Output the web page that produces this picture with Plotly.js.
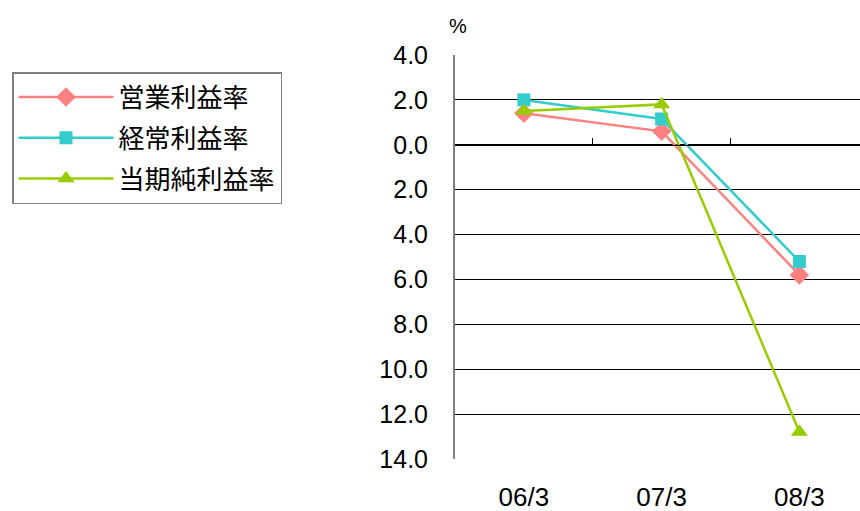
<!DOCTYPE html>
<html><head><meta charset="utf-8">
<script src="https://cdn.plot.ly/plotly-3.0.1.min.js"></script>
<style>html,body{margin:0;padding:0;background:#fff}#chart{width:860px;height:511px}</style>
</head><body><div id="chart"></div>
<script>
const categories = ["06/3", "07/3", "08/3"];
const operatingMargin = [1.4, 0.6, -5.8];
const ordinaryMargin = [2.0, 1.15, -5.2];
const netMargin = [1.5, 1.8, -12.8];
const seriesNames = ["営業利益率", "経常利益率", "当期純利益率"];
const yTickVals = [4, 2, 0, -2, -4, -6, -8, -10, -12, -14];
const yTickText = ["4.0", "2.0", "0.0", "2.0", "4.0", "6.0", "8.0", "10.0", "12.0", "14.0"];
const boundaryTicks = [-0.5, 0.5, 1.5];

const xIdx = categories.map((c, i) => i);
const numFont = "Liberation Sans, Arial, sans-serif";
const jpFont = "Noto Sans CJK JP, sans-serif";

const traces = [
  {x: xIdx, y: operatingMargin, name: seriesNames[0], mode: "lines+markers",
   line: {color: "#FF8080", width: 2.5}, marker: {symbol: "diamond", size: 15, color: "#FF8080"}, legendgroup: "a"},
  {x: xIdx, y: ordinaryMargin, name: seriesNames[1], mode: "lines+markers",
   line: {color: "#33CCCC", width: 2.5}, marker: {symbol: "square", size: 13, color: "#33CCCC"}, legendgroup: "b"},
  {x: xIdx, y: netMargin, name: seriesNames[2], mode: "lines+markers",
   line: {color: "#99CC00", width: 2.5}, marker: {symbol: "triangle-up", size: 15, color: "#99CC00"}, legendgroup: "c"},
  {x: [], y: [], xaxis: "x2", yaxis: "y", showlegend: false, hoverinfo: "skip"}
];

const layout = {
  width: 860, height: 511,
  margin: {l: 455, r: 0, t: 55, b: 52},
  paper_bgcolor: "#fff", plot_bgcolor: "#fff",
  showlegend: true,
  xaxis: {
    range: [-0.5, 2.44], tickvals: xIdx, ticktext: categories,
    showgrid: false, zeroline: false, showline: false, ticks: "",
    ticklabelstandoff: 20,
    tickfont: {family: numFont, size: 26, color: "#000"}
  },
  xaxis2: {
    overlaying: "x", anchor: "free", position: 14 / 18, side: "bottom",
    range: [-0.5, 2.44], tickvals: boundaryTicks, ticks: "inside", ticklen: 7, tickwidth: 1.2,
    tickcolor: "#000", showticklabels: false, showline: true, linecolor: "#000", linewidth: 1.5,
    showgrid: false, zeroline: false
  },
  yaxis: {
    range: [-14, 4], tickvals: yTickVals, ticktext: yTickText,
    showgrid: true, gridcolor: "#000", gridwidth: 1, zeroline: false,
    showline: true, linecolor: "#808080", linewidth: 2, ticks: "",
    ticklabelstandoff: 20,
    tickfont: {family: numFont, size: 25, color: "#000"}
  },
  legend: {
    xref: "container", yref: "container", x: 12 / 860, y: 1 - 72 / 511,
    xanchor: "left", yanchor: "top",
    bgcolor: "#fff", bordercolor: "#808080", borderwidth: 1.5,
    font: {family: jpFont, size: 26, color: "#000"},
    traceorder: "grouped", tracegroupgap: 4, itemwidth: 95
  },
  annotations: [{
    text: "%", xref: "paper", yref: "paper", x: 3 / 405, y: 1 + 29 / 404,
    xanchor: "center", yanchor: "middle", showarrow: false,
    font: {family: numFont, size: 20, color: "#000"}
  }]
};

Plotly.newPlot("chart", traces, layout, {displayModeBar: false, staticPlot: true});
</script></body></html>
